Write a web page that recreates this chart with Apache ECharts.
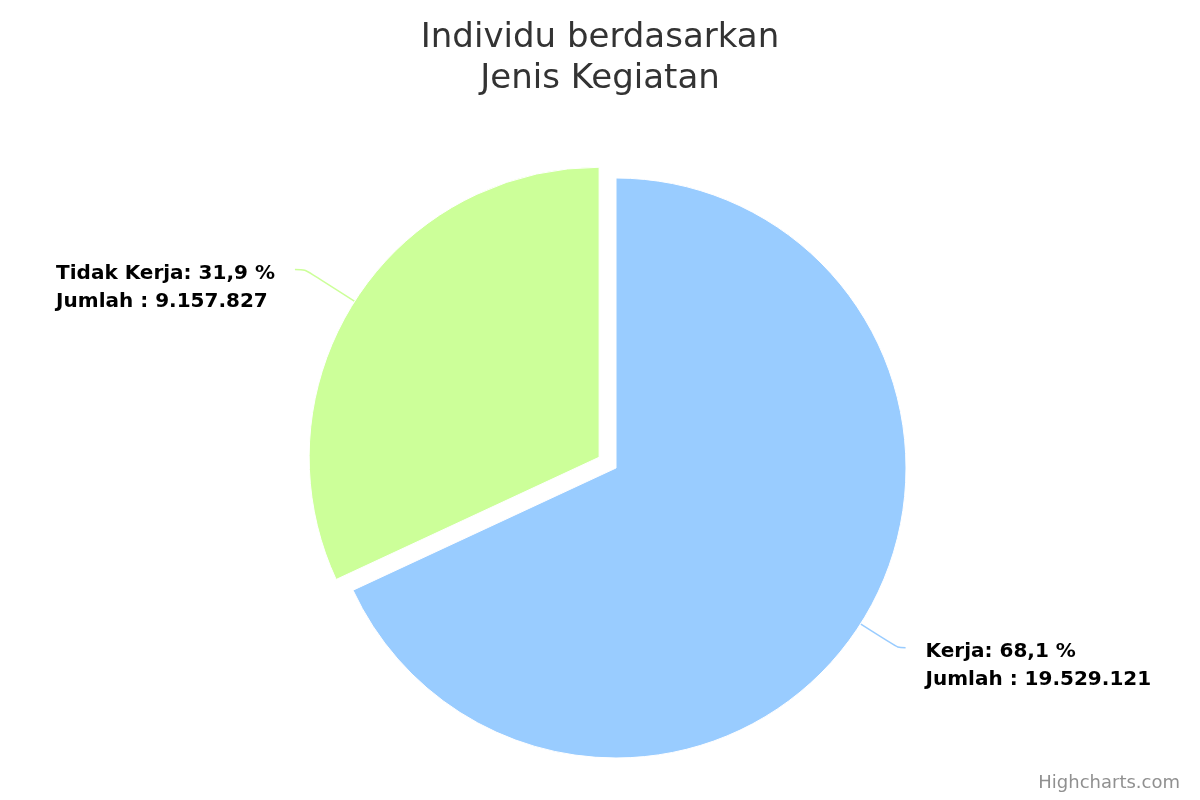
<!DOCTYPE html>
<html>
<head>
<meta charset="utf-8">
<script src="https://cdn.jsdelivr.net/npm/echarts@6/dist/echarts.min.js"></script>
<style>
html,body{margin:0;padding:0;background:#fff;}
#chart{width:1200px;height:800px;}
</style>
</head>
<body>
<div id="chart"></div>
<script>
const titleLines = ['Individu berdasarkan', 'Jenis Kegiatan'];
const categories = ['Kerja', 'Tidak Kerja'];
const values = [19529121, 9157827];
const colors = ['#99ccff', '#ccff99'];
const selectedFlags = [false, true];
const lineLengths = [[44, 8], [59, 10]];
const creditText = 'Highcharts.com';

function fmtNum(v) {
  return String(v).replace(/\B(?=(\d{3})+(?!\d))/g, '.');
}

const chart = echarts.init(document.getElementById('chart'), null, {renderer: 'canvas'});

const data = categories.map((c, i) => ({
  name: c,
  value: values[i],
  selected: selectedFlags[i],
  itemStyle: {color: colors[i]},
  select: {itemStyle: {color: colors[i], borderColor: '#ffffff', borderWidth: 1}},
  labelLine: {length: lineLengths[i][0], length2: lineLengths[i][1], lineStyle: {color: colors[i]}}
}));

chart.setOption({
  animation: false,
  backgroundColor: '#ffffff',
  title: {
    text: titleLines.join('\n'),
    left: 'center',
    top: 13,
    textStyle: {
      fontFamily: 'DejaVu Sans',
      fontSize: 34,
      fontWeight: 'normal',
      color: '#333333',
      lineHeight: 41
    }
  },
  graphic: [{
    type: 'text',
    right: 20,
    bottom: 8,
    style: {
      text: creditText,
      fontFamily: 'DejaVu Sans',
      fontSize: 18,
      fill: '#909090'
    }
  }],
  series: [{
    type: 'pie',
    center: [616, 468],
    radius: 290,
    startAngle: 90,
    clockwise: true,
    avoidLabelOverlap: false,
    selectedMode: 'single',
    selectedOffset: 20,
    emphasis: {disabled: true},
    itemStyle: {borderColor: '#ffffff', borderWidth: 1},
    label: {
      show: true,
      position: 'outside',
      distanceToLabelLine: 20,
      padding: [36, 0, 0, 0],
      formatter: function (p) {
        const pct = p.percent.toFixed(1).replace('.', ',');
        return '{a|' + p.name + ': ' + pct + ' %}\n{a|Jumlah : ' + fmtNum(p.value) + '}';
      },
      rich: {
        a: {
          fontFamily: 'DejaVu Sans',
          fontSize: 20,
          fontWeight: 'bold',
          color: '#000000',
          lineHeight: 28,
          align: 'left'
        }
      }
    },
    labelLine: {
      show: true,
      smooth: 0.3,
      lineStyle: {width: 1.5}
    },
    data: data
  }]
});
</script>
</body>
</html>
